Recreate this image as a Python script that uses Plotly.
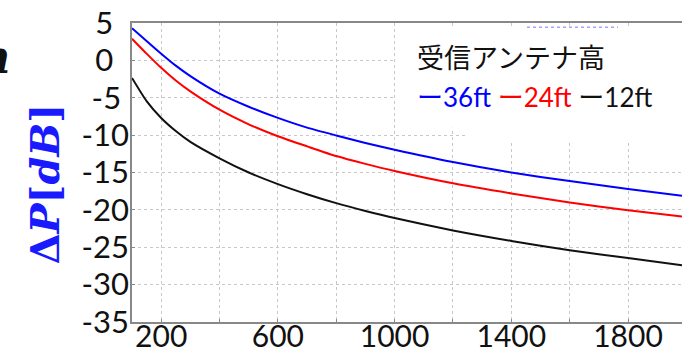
import plotly.graph_objects as go

# ---- data ----
x_vals = [100, 150, 200, 250, 300, 400, 500, 600, 700, 800, 900, 1000, 1200, 1400, 1600, 1800, 1985]
blue_36ft = [4.3, 2.6, 0.9, -0.7, -2.1, -4.45, -6.2, -7.7, -9.0, -10.05, -11.05, -11.95, -13.6, -15.0, -16.15, -17.2, -18.1]
red_24ft = [2.9, 0.9, -1.0, -2.7, -4.15, -6.6, -8.55, -10.15, -11.5, -12.8, -13.85, -14.8, -16.45, -17.8, -19.0, -20.05, -20.9]
black_12ft = [-2.35, -5.45, -7.7, -9.45, -10.9, -13.1, -15.0, -16.55, -17.9, -19.1, -20.15, -21.1, -22.75, -24.15, -25.4, -26.45, -27.4]

x_ticks = [200, 600, 1000, 1400, 1800]
y_ticks = [5, 0, -5, -10, -15, -20, -25, -30, -35]

legend_title = "受信アンテナ高"
series_names = ["36ft", "24ft", "12ft"]
series_colors = ["#0000ff", "#ff0000", "#111111"]

W, H = 682, 354
L, R, T, B = 132, 0, 23.3, 354 - 322.5


def px(xw):
    return (xw - L) / (W - L - R)


def py(yw):
    return (H - B - yw) / (H - B - T)


fig = go.Figure()
for ys, c in [(blue_36ft, series_colors[0]), (red_24ft, series_colors[1]), (black_12ft, series_colors[2])]:
    fig.add_trace(go.Scatter(x=x_vals, y=ys, mode="lines",
                             line=dict(color=c, width=2, shape="spline", smoothing=0.6),
                             showlegend=False, hoverinfo="skip"))

tick_font = dict(family="Lato, Calibri, sans-serif", size=31, color="#111")
xtick_font = dict(family="Lato, Calibri, sans-serif", size=30, color="#111")
nb = "\u00a0"
y_text = []
for v in y_ticks:
    s = str(v)
    pad = 2 if len(s) == 1 else (1 if len(s) == 2 else 0)
    y_text.append(s + nb * pad)

fig.update_layout(
    width=W, height=H,
    margin=dict(l=L, r=R, t=T, b=B, pad=0, autoexpand=False),
    paper_bgcolor="white", plot_bgcolor="white",
    xaxis=dict(range=[100, 1985], tickvals=x_ticks, ticktext=[str(v) for v in x_ticks],
               showgrid=True, gridcolor="#c8c8c8", griddash="dot", gridwidth=1,
               minor=dict(dtick=200, tick0=0, showgrid=True, gridcolor="#c8c8c8", griddash="dot",
                          ticks="inside", ticklen=3, tickcolor="#888"),
               ticks="inside", ticklen=3, tickcolor="#888",
               showline=True, linecolor="#888", linewidth=1.5, mirror=True,
               zeroline=False, tickfont=xtick_font, ticklabelstandoff=-13, automargin=False),
    yaxis=dict(range=[-35, 5], tickvals=y_ticks, ticktext=y_text,
               showgrid=True, gridcolor="#c8c8c8", griddash="dot", gridwidth=1,
               ticks="inside", ticklen=3, tickcolor="#888",
               showline=True, linecolor="#888", linewidth=1.5,
               zeroline=False, tickfont=tick_font, ticklabelstandoff=-5, automargin=False),
)

# white legend box covering grid
fig.add_shape(type="rect", xref="paper", yref="paper", x0=px(395), x1=px(690), y0=py(128), y1=py(27),
              fillcolor="white", line=dict(width=0), layer="above")
fig.add_shape(type="rect", xref="paper", yref="paper", x0=px(467), x1=px(690), y0=py(141), y1=py(127),
              fillcolor="white", line=dict(width=0), layer="above")
# faint dotted remnant at top
fig.add_shape(type="line", xref="paper", yref="paper", x0=px(527), x1=px(618), y0=py(27.5), y1=py(27.5),
              line=dict(color="rgba(90,90,255,0.55)", width=1.5, dash="dot"), layer="above")

# legend text
fig.add_annotation(xref="paper", yref="paper", x=px(415), y=py(56.5), xanchor="left", yanchor="middle",
                   text=legend_title, showarrow=False,
                   font=dict(family="Noto Sans CJK JP", size=27, color="#111"))
legend_line = " ".join(
    f'<span style="color:{c};font-family:Noto Sans CJK JP">ー</span><span style="color:{c}">{n}</span>'
    for n, c in zip(series_names, series_colors))
fig.add_annotation(xref="paper", yref="paper", x=px(415), y=py(96), xanchor="left", yanchor="middle",
                   text=legend_line, showarrow=False,
                   font=dict(family="Lato, Calibri, sans-serif", size=26, color="#111"))

# y-axis title
fig.add_annotation(xref="paper", yref="paper", x=px(45), y=py(185), xanchor="center", yanchor="middle",
                   text="<b>Δ<i>P</i>[<i>dB</i>]</b>", textangle=-90, showarrow=False,
                   font=dict(family="DejaVu Serif", size=40, color="#1a1aff"))
# clipped letter at top-left
fig.add_annotation(xref="paper", yref="paper", x=px(12), y=py(57), xanchor="right", yanchor="middle",
                   text="<b><i>n</i></b>", showarrow=False,
                   font=dict(family="DejaVu Serif", size=46, color="#111"))

page_fix = (
    "document.documentElement.style.margin='0';"
    "document.documentElement.style.overflow='hidden';"
    "document.body.style.margin='0';"
    "document.body.style.padding='0';"
    "document.body.style.overflow='hidden';"
    "var d=document.getElementById('{plot_id}');d.style.display='block';"
)
fig.write_html("out.html", post_script=page_fix, config={"displayModeBar": False})
